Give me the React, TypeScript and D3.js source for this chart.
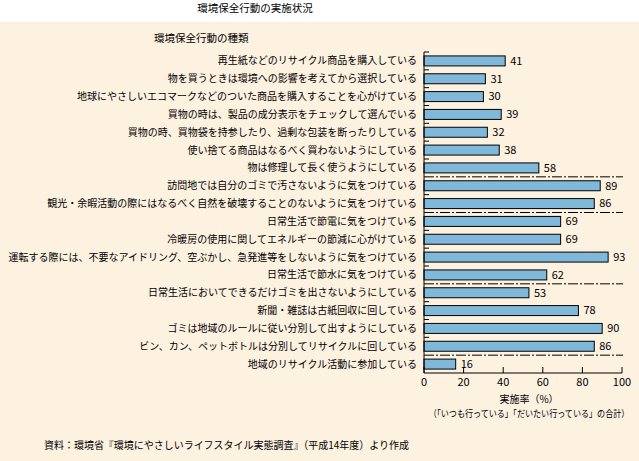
import React from 'react';
import * as d3 from 'd3';

const categories: string[] = [
  '再生紙などのリサイクル商品を購入している',
  '物を買うときは環境への影響を考えてから選択している',
  '地球にやさしいエコマークなどのついた商品を購入することを心がけている',
  '買物の時は、製品の成分表示をチェックして選んでいる',
  '買物の時、買物袋を持参したり、過剰な包装を断ったりしている',
  '使い捨てる商品はなるべく買わないようにしている',
  '物は修理して長く使うようにしている',
  '訪問地では自分のゴミで汚さないように気をつけている',
  '観光・余暇活動の際にはなるべく自然を破壊することのないように気をつけている',
  '日常生活で節電に気をつけている',
  '冷暖房の使用に関してエネルギーの節減に心がけている',
  '運転する際には、不要なアイドリング、空ぶかし、急発進等をしないように気をつけている',
  '日常生活で節水に気をつけている',
  '日常生活においてできるだけゴミを出さないようにしている',
  '新聞・雑誌は古紙回収に回している',
  'ゴミは地域のルールに従い分別して出すようにしている',
  'ビン、カン、ペットボトルは分別してリサイクルに回している',
  '地域のリサイクル活動に参加している',
];
const values: number[] = [41, 31, 30, 39, 32, 38, 58, 89, 86, 69, 69, 93, 62, 53, 78, 90, 86, 16];
const groupBreaks: number[] = [7, 9, 13, 17];
const xTicks: number[] = [0, 20, 40, 60, 80, 100];

const title = '環境保全行動の実施状況';
const subtitle = '環境保全行動の種類';
const axisTitle = '実施率（%）';
const axisNote = '（「いつも行っている」「だいたい行っている」の合計）';
const source = '資料：環境省『環境にやさしいライフスタイル実態調査』（平成14年度）より作成';

const FONT = '"Noto Sans CJK JP", "Noto Sans", sans-serif';

export default function App() {
  const W = 639;
  const H = 461;
  const x = d3.scaleLinear().domain([0, 100]).range([424, 622]);
  const y = d3
    .scaleBand<string>()
    .domain(categories)
    .range([52, 373])
    .paddingInner(0.44)
    .paddingOuter(0.22);
  const step = y.step();
  const top = 52;
  const bottom = 373;
  const x0 = x(0);
  const boundaries = d3.range(0, categories.length).filter((i) => !groupBreaks.includes(i));

  return (
    <svg
      width={W}
      height={H}
      style={{ position: 'absolute', left: 0, top: 0, display: 'block' }}
      fontFamily={FONT}
    >
      <rect x={0} y={0} width={W} height={H} fill="#ffffff" />
      <rect x={0} y={22} width={W} height={H - 22} fill="#FDF1E0" />
      <text x={255} y={12} fontSize={10.5} textAnchor="middle" fill="#000">
        {title}
      </text>
      <text x={154} y={42} fontSize={10.5} fill="#000">
        {subtitle}
      </text>

      {/* small ticks at band boundaries */}
      {boundaries.map((i) => (
        <line
          key={'bt' + i}
          x1={x0}
          x2={x0 + 5}
          y1={top + i * step}
          y2={top + i * step}
          stroke="#000"
          strokeWidth={1}
        />
      ))}

      {/* group separators */}
      {groupBreaks.map((i) => (
        <line
          key={'gs' + i}
          x1={x0}
          x2={x(100) + 1}
          y1={top + i * step}
          y2={top + i * step}
          stroke="#000"
          strokeWidth={1}
          strokeDasharray="10,2,2,2"
        />
      ))}

      {/* bars */}
      {categories.map((c, i) => (
        <g key={'b' + i}>
          <rect
            x={x0}
            y={y(c)!}
            width={x(values[i]) - x0}
            height={y.bandwidth()}
            fill="#7FB8D8"
            stroke="#000"
            strokeWidth={1}
          />
          <text
            x={x(values[i]) + 5}
            y={y(c)! + y.bandwidth() / 2}
            dy="0.35em"
            fontSize={11}
            fill="#000"
          >
            {values[i]}
          </text>
          <text
            x={417}
            y={y(c)! + y.bandwidth() / 2}
            dy="0.35em"
            fontSize={10}
            textAnchor="end"
            fill="#000"
          >
            {c}
          </text>
        </g>
      ))}

      {/* axes */}
      <line x1={x0} x2={x0} y1={top} y2={bottom} stroke="#000" strokeWidth={1} />
      <line x1={x0} x2={x(100)} y1={bottom} y2={bottom} stroke="#000" strokeWidth={1} />
      {xTicks.map((t) => (
        <g key={'xt' + t}>
          <line x1={x(t)} x2={x(t)} y1={bottom} y2={bottom - 6} stroke="#000" strokeWidth={1} />
          <text x={x(t)} y={386} fontSize={11} textAnchor="middle" fill="#000">
            {t}
          </text>
        </g>
      ))}
      <text x={529} y={403} fontSize={10} textAnchor="middle" fill="#000">
        {axisTitle}
      </text>
      <text
        transform="translate(529,417) scale(0.85,1)"
        fontSize={9.5}
        textAnchor="middle"
        fill="#000"
      >
        {axisNote}
      </text>
      <text
        x={44}
        y={449}
        fontSize={10.5}
        fill="#000"
        textLength={365}
        lengthAdjust="spacingAndGlyphs"
      >
        {source}
      </text>
    </svg>
  );
}
